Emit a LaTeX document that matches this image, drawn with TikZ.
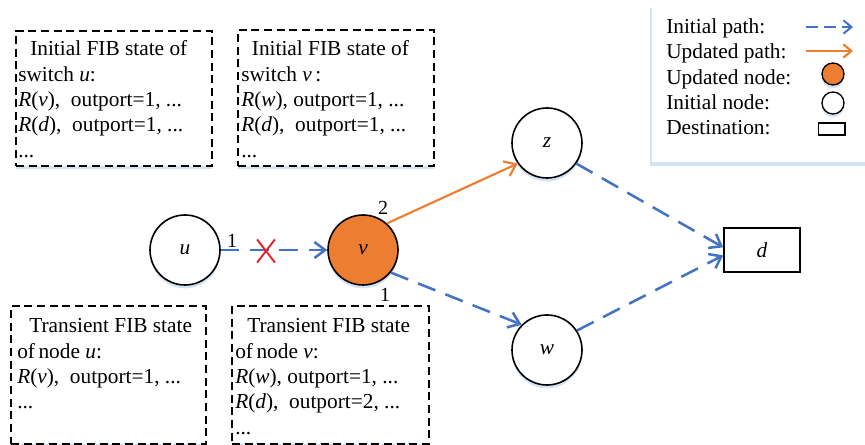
\documentclass[tikz,border=0pt]{standalone}
\usepackage{fontspec}
\setmainfont{Liberation Serif}
\usetikzlibrary{arrows.meta,shadows,shapes.misc}
\definecolor{pathblue}{RGB}{68,114,196}
\definecolor{updorange}{RGB}{237,125,49}
\definecolor{crossred}{RGB}{235,28,36}
\definecolor{glow}{RGB}{200,220,240}
\begin{document}
\begin{tikzpicture}[x=0.75pt, y=-0.75pt,
      font=\fontsize{16}{19}\selectfont,
      every node/.style={inner sep=0pt},
      fibbox/.style={draw, dash pattern=on 6pt off 3.5pt, line width=1.3pt, fill=white, anchor=north west,
         drop shadow={shadow xshift=0pt, shadow yshift=-2.5pt, fill=glow, opacity=0.8}},
      fibtext/.style={anchor=north west, align=left},
      sw/.style={circle, draw, line width=1.2pt, minimum size=52.5pt, fill=white,
         drop shadow={shadow xshift=0pt, shadow yshift=-2.5pt, fill=glow, opacity=0.8}},
      upd/.style={sw, fill=updorange},
      dst/.style={draw, rectangle, line width=1.2pt, minimum width=57pt, minimum height=33pt, fill=white},
      init/.style={draw=pathblue, line width=1.9pt, dash pattern=on 14pt off 8pt, -{Straight Barb[length=8pt,width=12pt]}},
      new/.style={draw=updorange, line width=1.6pt, -{Straight Barb[length=8pt,width=12pt]}},
      port/.style={font=\fontsize{15}{15}\selectfont}]
   \useasboundingbox (0,0) rectangle (865,445);
   \node[fill=white, anchor=north west, minimum width=165pt, minimum height=118.5pt,
      drop shadow={shadow xshift=-1.5pt, shadow yshift=-2.5pt, fill=glow, opacity=0.8}] (leg) at (652,4) {};
   \node[anchor=base west] (l1) at (666,34) {Initial path:};
   \node[anchor=base west] (l2) at (666,59) {Updated path:};
   \node[anchor=base west] (l3) at (666,85) {Updated node:};
   \node[anchor=base west] (l4) at (666,110) {Initial node:};
   \node[anchor=base west] (l5) at (666,135) {Destination:};
   \coordinate (a1) at (806,27);
   \coordinate (b1) at (853,27);
   \coordinate (a2) at (806,51);
   \coordinate (b2) at (853,51);
   \draw[init, line width=1.5pt, dash pattern=on 9pt off 4.5pt, -{Straight Barb[length=6pt,width=10pt]}] (a1) -- (b1);
   \draw[new, -{Straight Barb[length=6pt,width=10pt]}] (a2) -- (b2);
   \node[upd, minimum size=16.5pt, line width=1pt, drop shadow={opacity=0}] (lupd) at (833,74) {};
   \node[sw, minimum size=16.5pt, line width=1pt] (linit) at (833,103) {};
   \node[dst, minimum width=20pt, minimum height=9pt, line width=1pt] (ldst) at (831.5,129) {};

   \node[fibbox, minimum width=147pt, minimum height=101.25pt] (fu) at (15,30) {};
   \node[fibtext] (fut) at (18,40.5) {\hspace*{9pt}Initial FIB state of\\ switch \textit{u}:\\
      \textit{R}(\textit{v}),\ \ outport=1, ...\\ \textit{R}(\textit{d}),\ \ outport=1, ...\\ ...};
   \node[fibbox, minimum width=147pt, minimum height=102pt] (fv) at (237,29) {};
   \node[fibtext] (fvt) at (241,40.5) {\hspace*{8pt}Initial FIB state of\\ switch \textit{v}\,:\\
      \textit{R}(\textit{w}), outport=1, ...\\ \textit{R}(\textit{d}),\ \ outport=1, ...\\ ...};
   \node[fibbox, minimum width=146.25pt, minimum height=103.5pt] (tu) at (10,305) {};
   \node[fibtext] (tut) at (17,318.4) {\hspace*{9pt}Transient FIB state\\ of\,node \textit{u}:\\
      \textit{R}(\textit{v}),\ \ outport=1, ...\\ ...};
   \node[fibbox, minimum width=147.75pt, minimum height=103.5pt] (tv) at (231,305) {};
   \node[fibtext] (tvt) at (235,318.4) {\hspace*{9pt}Transient FIB state\\ of\,node \textit{v}:\\
      \textit{R}(\textit{w}), outport=1, ...\\ \textit{R}(\textit{d}),\ \ outport=2, ...\\ ...};

   \node[sw] (u) at (185,250) {\textit{u}};
   \node[upd] (v) at (363,250) {\textit{v}};
   \node[sw] (z) at (547,143) {\textit{z}};
   \node[sw] (w) at (547,350) {\textit{w}};
   \node[dst] (d) at (762,250) {\textit{d}};
   \draw[init] (u) -- (v);
   \node[cross out, draw=crossred, line width=1.4pt, minimum width=12pt, minimum height=16pt] (cut) at (266,251) {};
   \draw[new] (v.48) -- (z.215);
   \draw[init] (v.-39) -- (w.135);
   \draw[init] (z.-35) -- ([yshift=2pt]d.west);
   \draw[init] (w.33) -- ([yshift=-4pt]d.west);
   \node[port] (p1) at (232,241) {1};
   \node[port] (p2) at (383,208) {2};
   \node[port] (p3) at (385,295) {1};
\end{tikzpicture}
\end{document}
